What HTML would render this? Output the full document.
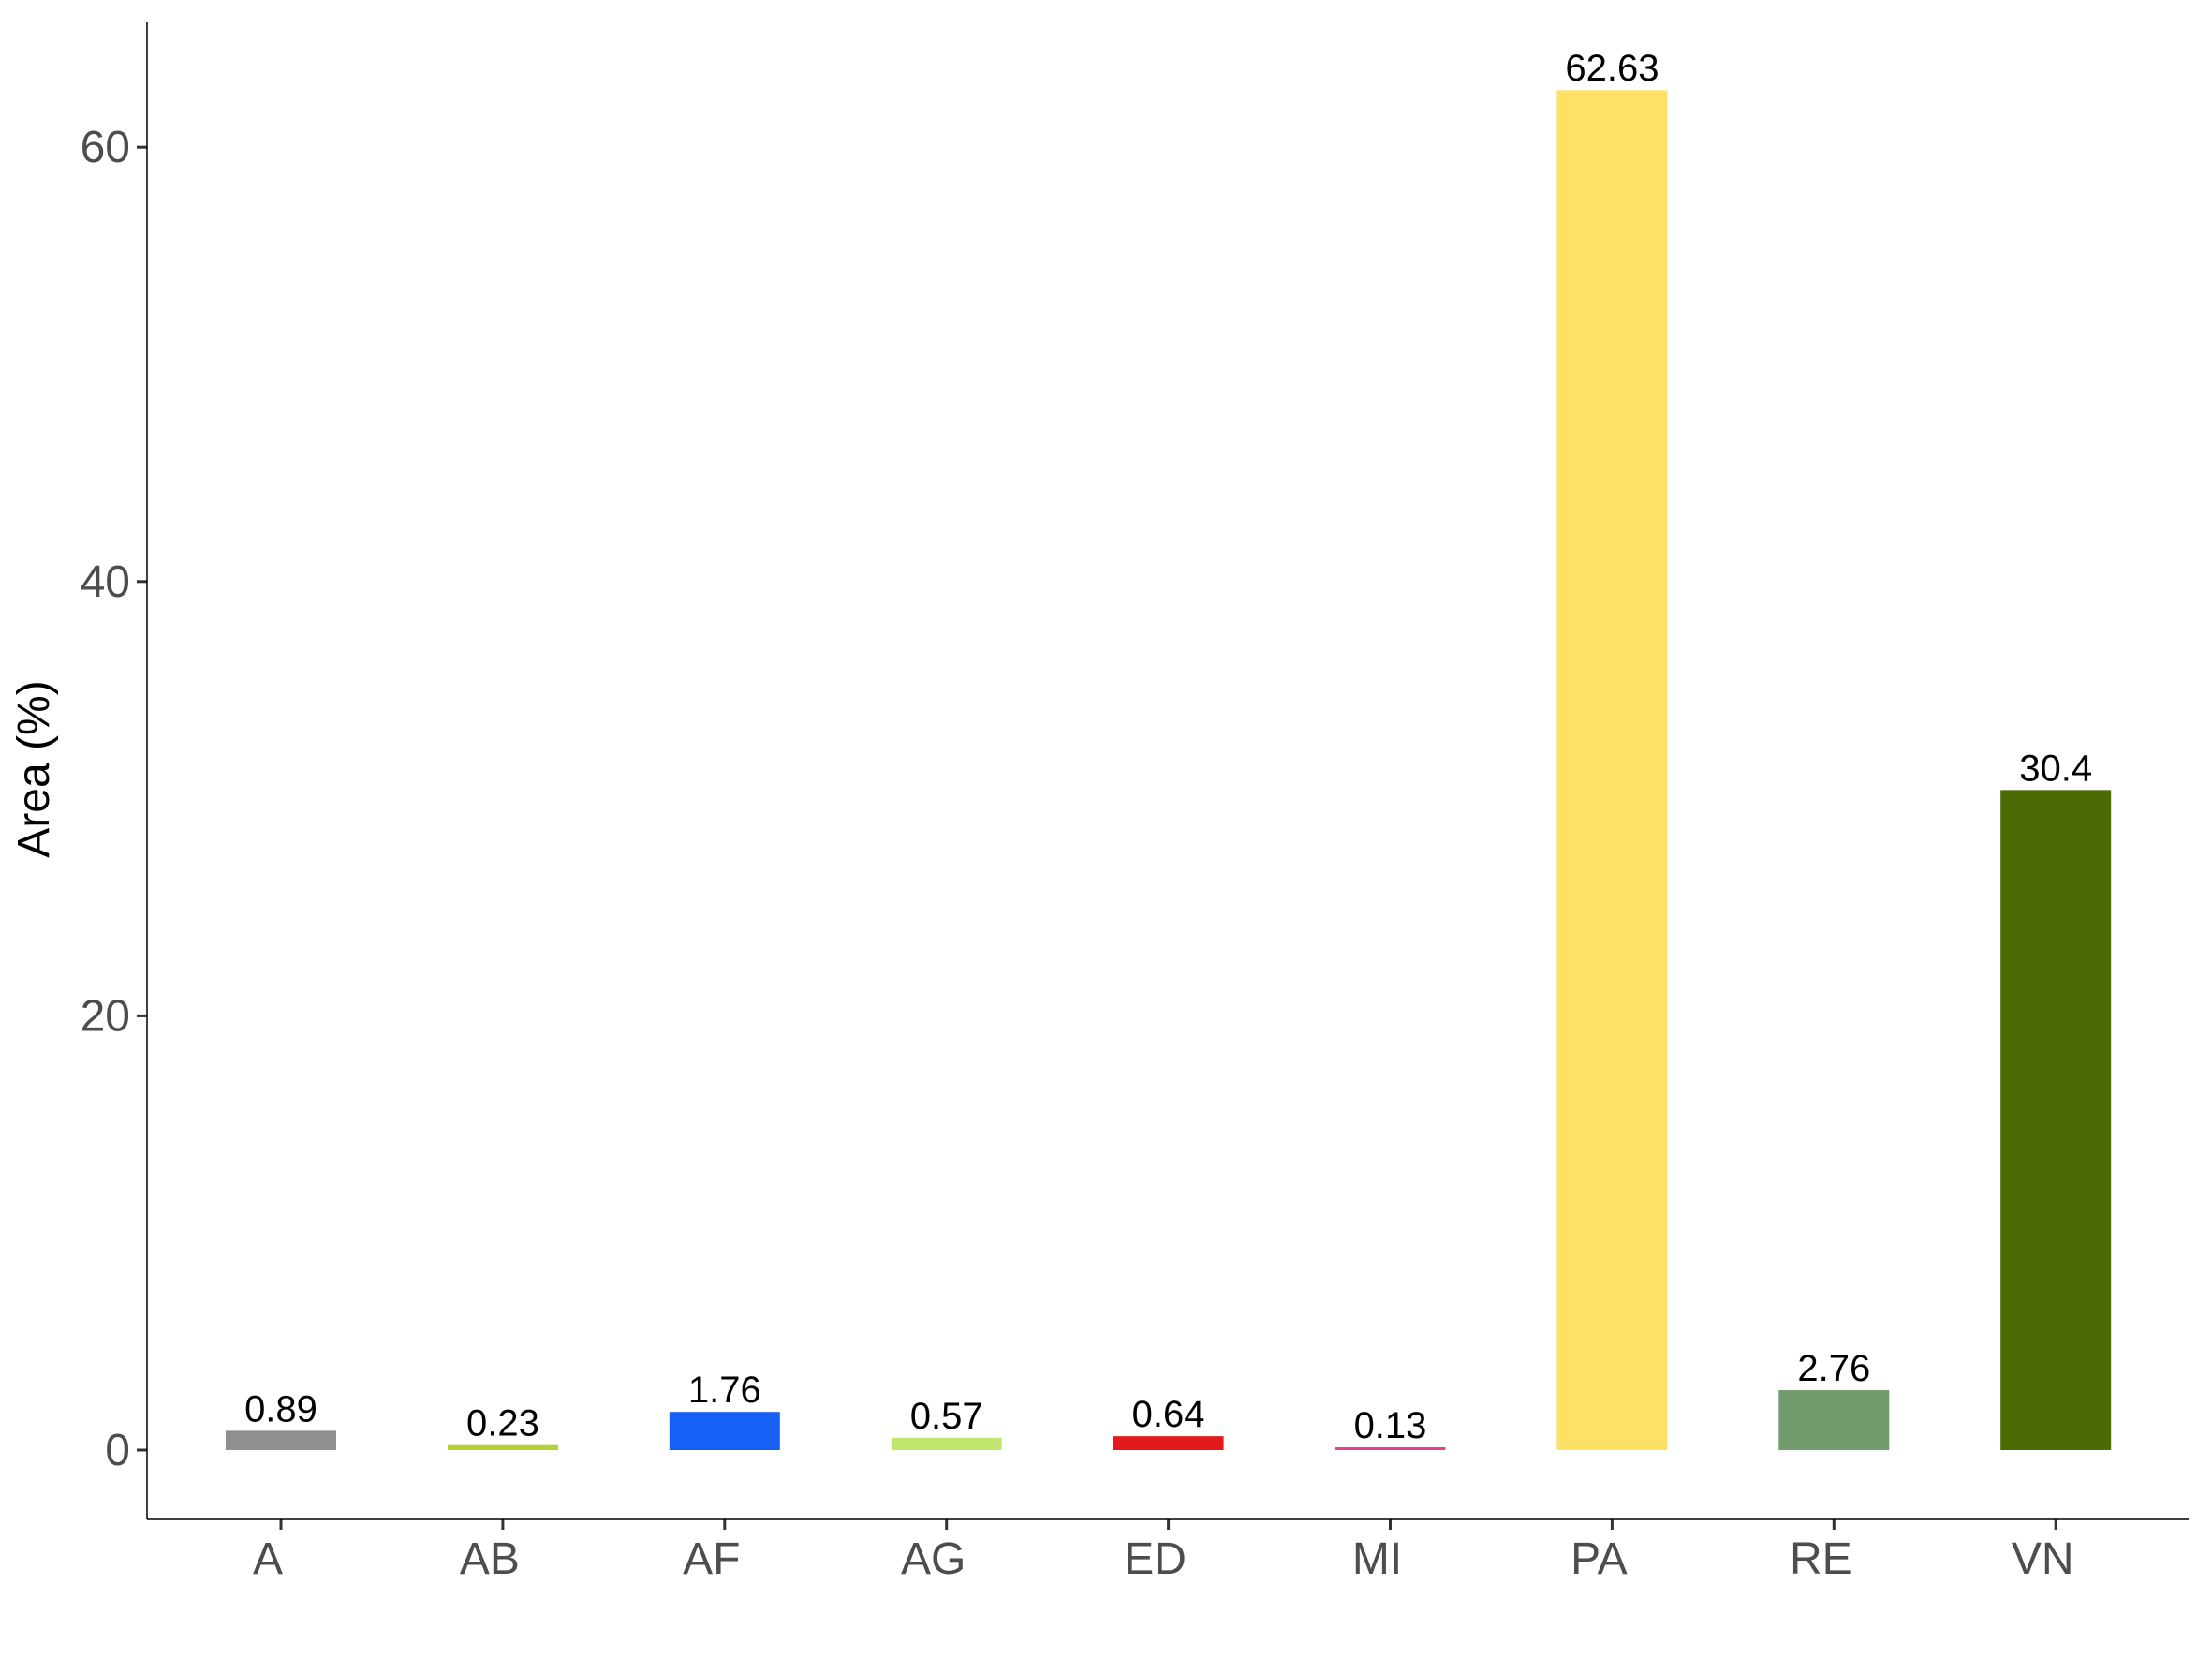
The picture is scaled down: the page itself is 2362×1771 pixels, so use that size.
<!DOCTYPE html>
<html><head><meta charset="utf-8"><style>
body{margin:0;background:#fff}
svg{display:block;font-family:"Liberation Sans",Arial,sans-serif}
</style></head><body>
<svg id="chart" width="2362" height="1771"></svg>
<script>
const categories=["A","AB","AF","AG","ED","MI","PA","RE","VN"];
const values=[0.89,0.23,1.76,0.57,0.64,0.13,62.63,2.76,30.4];
const labels=["0.89","0.23","1.76","0.57","0.64","0.13","62.63","2.76","30.4"];
const colors=["#8e9090","#b2d235","#1760f5","#c1e66e","#e31a1c","#e6428a","#fde166","#739c6e","#4b6b05"];
const yTicks=[0,20,40,60];
const NS="http://www.w3.org/2000/svg";
const svgEl=document.getElementById("chart");
const plotLeft=157,plotRight=2337,plotTop=23,plotBottom=1622,yZero=1548,pxPerUnit=23.18;
const xStart=300,step=236.9,bw=118;
function yScale(v){return yZero-v*pxPerUnit;}
function xScale(i){return xStart+i*step;}
function mk(tag,attrs){const e=document.createElementNS(NS,tag);for(const k in attrs)e.setAttribute(k,attrs[k]);svgEl.appendChild(e);return e;}
categories.forEach((c,i)=>{
  const r=mk("rect",{x:xScale(i)-bw/2,y:yScale(values[i]),width:bw,height:yScale(0)-yScale(values[i]),fill:colors[i]});
  
  
  const t=mk("text",{x:xScale(i),y:yScale(values[i])-10,"text-anchor":"middle","font-size":"40",fill:"#000"});
  t.textContent=labels[i];
  
  
  const tk=mk("line",{x1:xScale(i),x2:xScale(i),y1:plotBottom,y2:plotBottom+11,stroke:"#333","stroke-width":"3"});
  
  
  const xl=mk("text",{x:xScale(i)-14,y:1680,"text-anchor":"middle","font-size":"48",fill:"#4d4d4d"});
  xl.textContent=c;
  
  
});
yTicks.forEach(v=>{
  const tk=mk("line",{x1:plotLeft-11,x2:plotLeft,y1:yScale(v),y2:yScale(v),stroke:"#333","stroke-width":"3"});
  
  
  const l=mk("text",{x:plotLeft-18,y:yScale(v)+16,"text-anchor":"end","font-size":"48",fill:"#4d4d4d"});
  l.textContent=v;
  
  
});
const ax=mk("line",{x1:plotLeft,x2:plotLeft,y1:plotTop,y2:plotBottom,stroke:"#000","stroke-width":"1.5"});


const bx=mk("line",{x1:plotLeft,x2:plotRight,y1:plotBottom,y2:plotBottom,stroke:"#000","stroke-width":"1.5"});


const yt=mk("text",{x:0,y:0,"text-anchor":"middle","font-size":"48",fill:"#000",transform:"translate(52,821) rotate(-90)"});
yt.textContent="Area (%)";


</script>
</body></html>
